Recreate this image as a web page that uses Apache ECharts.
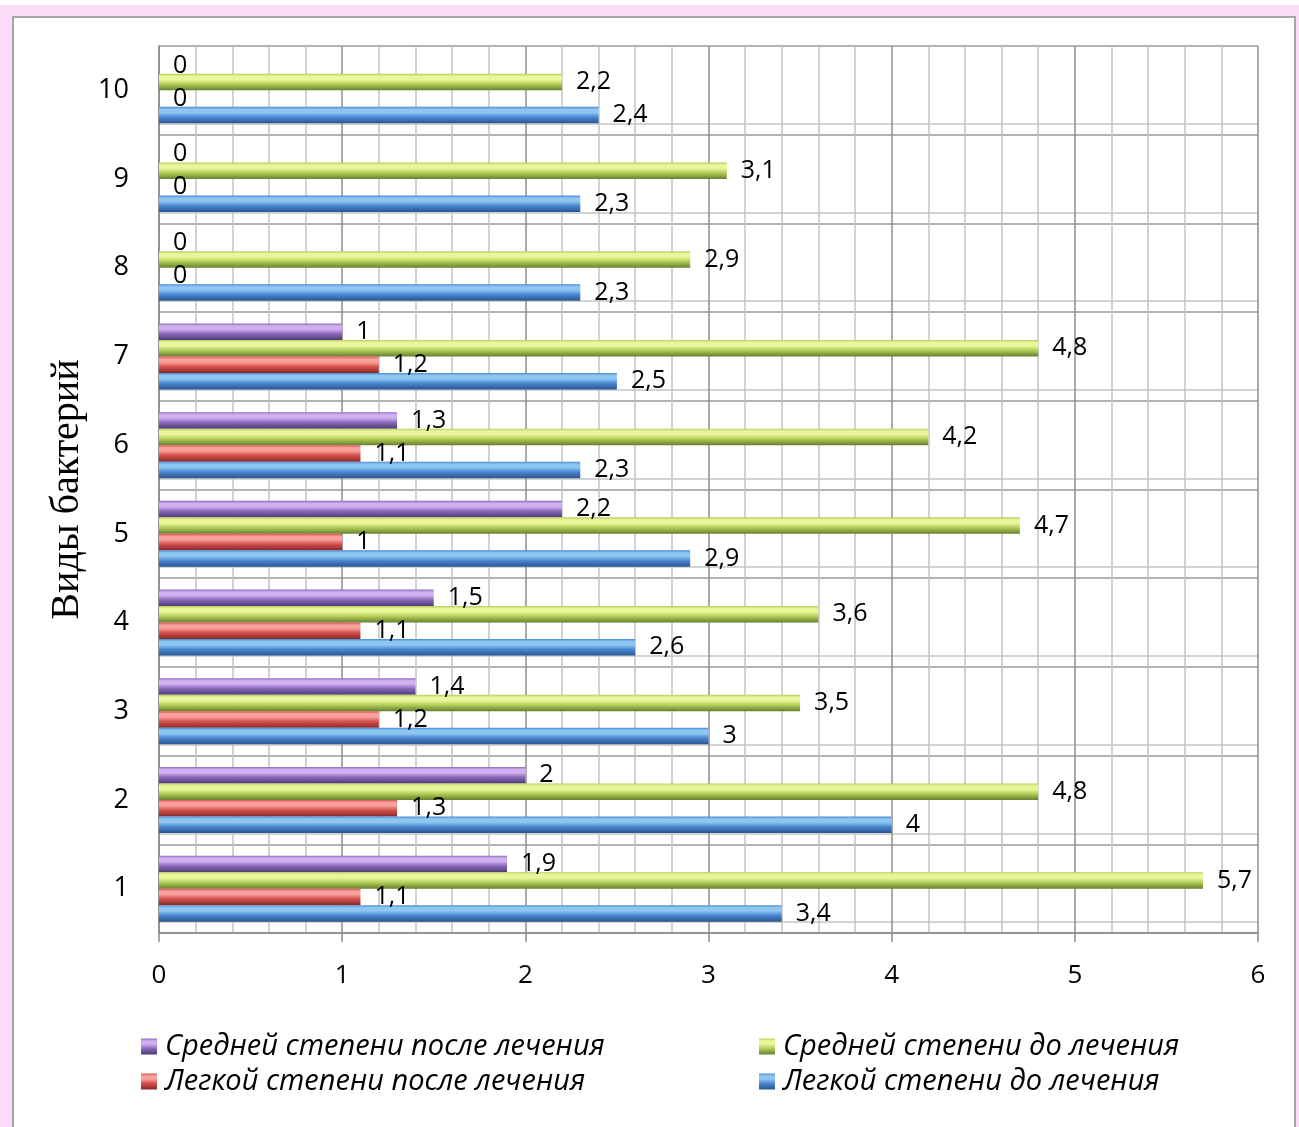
<!DOCTYPE html>
<html>
<head>
<meta charset="utf-8">
<script src="https://cdn.jsdelivr.net/npm/echarts@6/dist/echarts.min.js"></script>
<style>
  html, body { margin: 0; padding: 0; background: #fbdcf8; }
  #chart { width: 1299px; height: 1127px; }
</style>
</head>
<body>
<div id="chart"></div>
<script>
// Bacteria species (category axis, bottom to top)
const categories = ['1', '2', '3', '4', '5', '6', '7', '8', '9', '10'];

// Series names
const seriesNames = [
  'Легкой степени до лечения',
  'Легкой степени после лечения',
  'Средней степени до лечения',
  'Средней степени после лечения'
];

// Values per species
const mildBefore     = [3.4, 4, 3, 2.6, 2.9, 2.3, 2.5, 2.3, 2.3, 2.4];
const mildAfter      = [1.1, 1.3, 1.2, 1.1, 1, 1.1, 1.2, 0, 0, 0];
const moderateBefore = [5.7, 4.8, 3.5, 3.6, 4.7, 4.2, 4.8, 2.9, 3.1, 2.2];
const moderateAfter  = [1.9, 2, 1.4, 1.5, 2.2, 1.3, 1, 0, 0, 0];

// Value axis ticks
const xTicks = [0, 1, 2, 3, 4, 5, 6];

const chart = echarts.init(document.getElementById('chart'), null, { renderer: 'canvas' });

// Cylinder-like shading: light top edge, saturated middle, dark lower edge
function tube(light, mid, dark, deep) {
  return new echarts.graphic.LinearGradient(0, 0, 0, 1, [
    { offset: 0, color: mid },
    { offset: 0.15, color: light },
    { offset: 0.35, color: light },
    { offset: 0.62, color: mid },
    { offset: 1, color: deep }
  ]);
}
const palette = {
  blue:   ['#8ec6f2', '#4a88d2', '#3b6cab', '#2b5590'],
  red:    ['#f7a09c', '#d6504c', '#a83a37', '#842a28'],
  green:  ['#eaf69c', '#b4cf58', '#7f9b3c', '#657f2e'],
  purple: ['#d0b0ef', '#8b69bd', '#6a4f96', '#4f3a74']
};
const fill = c => tube(...palette[c]);

// Drawn top to bottom inside each category: moderate-after, moderate-before, mild-after, mild-before
const order = [
  { name: seriesNames[3], data: moderateAfter,  color: 'purple' },
  { name: seriesNames[2], data: moderateBefore, color: 'green' },
  { name: seriesNames[1], data: mildAfter,      color: 'red' },
  { name: seriesNames[0], data: mildBefore,     color: 'blue' }
];

const series = order.map(s => ({
  name: s.name,
  type: 'bar',
  data: s.data,
  barGap: '0%',
  barCategoryGap: '25.6%',
  itemStyle: { color: fill(s.color) },
  label: {
    show: true,
    position: 'right',
    distance: 14,
    fontFamily: 'Open Sans',
    fontSize: 25,
    color: '#000',
    formatter: p => String(p.value).replace('.', ',')
  }
}));

const legendText = {
  fontFamily: 'Open Sans',
  fontStyle: 'italic',
  fontSize: 29,
  color: '#000',
  padding: [0, 0, 0, 3]
};

chart.setOption({
  animation: false,
  graphic: [
    { type: 'rect', z: -10, shape: { x: 0, y: 0, width: 1299, height: 5 }, style: { fill: '#ffffff' } },
    { type: 'rect', z: -9, shape: { x: 13, y: 17, width: 1282, height: 1130 },
      style: { fill: '#ffffff', stroke: '#a6a6a6', lineWidth: 2 } }
  ],
  grid: [
    { left: 159, right: 41, top: 46, bottom: 194, containLabel: false },
    // floor lines sitting just below each bar group
    { left: 159, right: 41, top: 123.7, height: 798.3, containLabel: false }
  ],
  legend: [
    {
      orient: 'vertical', left: 136, top: 1027, itemGap: 6,
      itemWidth: 16, itemHeight: 16, icon: 'rect',
      data: [
        { name: seriesNames[3], itemStyle: { color: fill('purple') } },
        { name: seriesNames[1], itemStyle: { color: fill('red') } }
      ],
      textStyle: legendText, selectedMode: false
    },
    {
      orient: 'vertical', left: 754, top: 1027, itemGap: 6,
      itemWidth: 16, itemHeight: 16, icon: 'rect',
      data: [
        { name: seriesNames[2], itemStyle: { color: fill('green') } },
        { name: seriesNames[0], itemStyle: { color: fill('blue') } }
      ],
      textStyle: legendText, selectedMode: false
    }
  ],
  xAxis: [
    {
      type: 'value', gridIndex: 0,
      min: xTicks[0], max: xTicks[xTicks.length - 1], interval: 1,
      axisLine: { show: true, lineStyle: { color: '#8a8a8a', width: 1.5 } },
      axisTick: { show: true, length: 9, lineStyle: { color: '#8a8a8a', width: 1.5 } },
      axisLabel: { margin: 30, fontFamily: 'Open Sans', fontSize: 26, color: '#000' },
      splitLine: { show: true, lineStyle: { color: '#8e8e8e', width: 1.5 } },
      minorTick: { show: false, splitNumber: 5 },
      minorSplitLine: { show: true, lineStyle: { color: '#c4c4c4', width: 1.5 } }
    },
    {
      type: 'value', gridIndex: 1, min: 0, max: 6, show: false,
      splitLine: { show: false }
    }
  ],
  yAxis: [
    {
      type: 'category', gridIndex: 0,
      data: categories,
      axisLine: { show: true, lineStyle: { color: '#8a8a8a', width: 1.5 } },
      axisTick: { show: false },
      axisLabel: { margin: 30, fontFamily: 'Open Sans', fontSize: 27, color: '#000' },
      splitLine: { show: true, lineStyle: { color: '#9a9a9a', width: 1.5 } },
      name: 'Виды бактерий',
      nameLocation: 'middle',
      nameGap: 71,
      nameRotate: 90,
      nameTextStyle: { fontFamily: 'Liberation Serif', fontSize: 40, color: '#000' }
    },
    {
      type: 'value', gridIndex: 1, min: 0, max: 9, interval: 1,
      axisLine: { show: false }, axisTick: { show: false }, axisLabel: { show: false },
      splitLine: { show: true, lineStyle: { color: '#c4c4c4', width: 1.5 } }
    }
  ],
  series: series
});
</script>
</body>
</html>
